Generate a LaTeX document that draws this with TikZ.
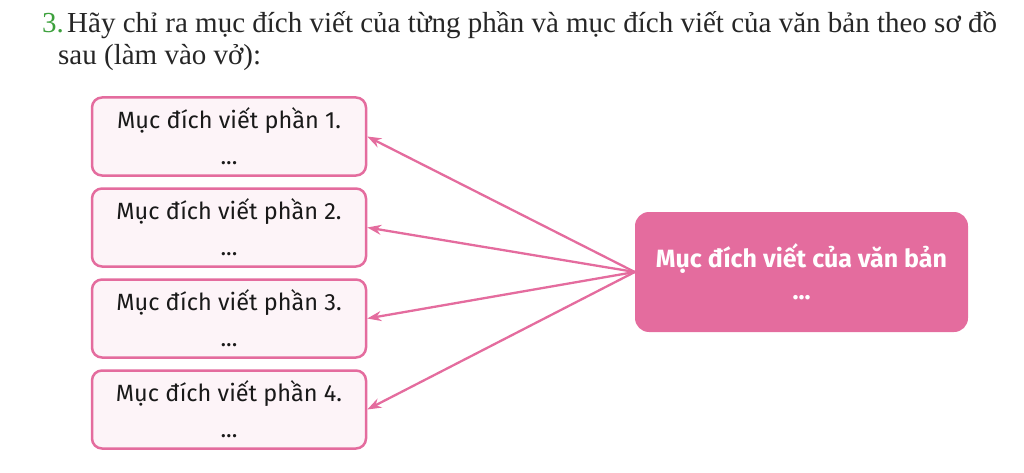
\documentclass[tikz,border=0pt]{standalone}
\usepackage{fontspec}
\setmainfont{Liberation Serif}
\newfontfamily\boxfont{Fira Sans}
\usetikzlibrary{positioning,arrows.meta}

\definecolor{rosa}{RGB}{228,108,158}
\definecolor{rosapale}{RGB}{253,244,248}
\definecolor{numgreen}{RGB}{60,160,60}

\tikzset{
  part box/.style={draw=rosa, line width=2.5pt, fill=rosapale, rounded corners=10pt,
    minimum width=274pt, minimum height=78pt, align=center, text=black!90,
    font=\boxfont\fontsize{23.5}{27}\selectfont},
  main box/.style={fill=rosa, rounded corners=14pt, minimum width=333pt,
    minimum height=120pt, align=center, text=white,
    font=\boxfont\bfseries\fontsize{25}{30}\selectfont},
  title text/.style={anchor=base west, inner sep=0pt, text=black!85,
    font=\fontsize{29}{35}\selectfont},
}

\begin{document}
\begin{tikzpicture}[x=1pt, y=1pt, >={Stealth[length=14pt,width=10pt]}]
\useasboundingbox (0,0) rectangle (1024,472);

% question
\node [title text, text=numgreen] (num) at (42,439) {3.};
\node [title text] (title-1) at (67,439)
  {Hãy chỉ ra mục đích viết của từng phần và mục đích viết của văn bản theo sơ đồ};
\node [title text] (title-2) at (58,407) {sau (làm vào vở):};

% boxes
\foreach \m [count=\y] in {1,2,3,4}
  \node [part box] (part-\m) at (229,426.5-\y*91) {Mục đích viết phần \m.\\[9pt]...};

\node [main box] (main) at (801.5,200) {Mục đích viết của văn bản\\[2pt]...};

% arrows
\foreach \i in {1,...,4}
  \draw [->, rosa, line width=2.3pt] (main.west) -- (part-\i.east);

\end{tikzpicture}
\end{document}
